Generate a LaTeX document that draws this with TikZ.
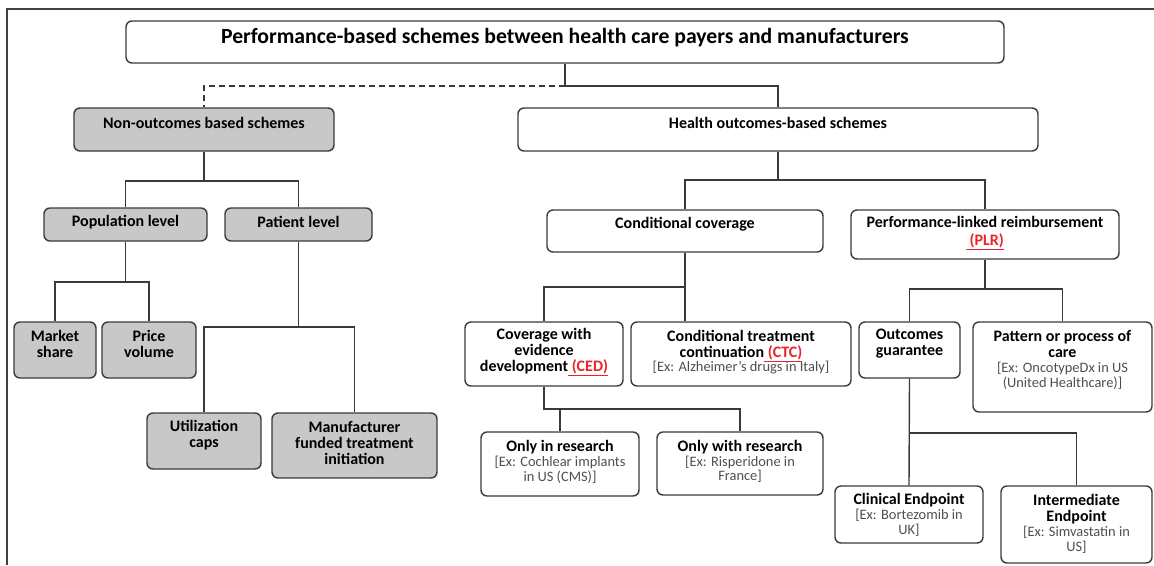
\documentclass[tikz,border=0pt]{standalone}
\usepackage{fontspec}
\setmainfont{Carlito}
\usetikzlibrary{calc}

\definecolor{edge}{HTML}{3A3A3A}
\definecolor{boxgray}{HTML}{C8C8C8}
\definecolor{exgray}{HTML}{4F4F4F}
\definecolor{tagred}{HTML}{E8262A}

% example line in brackets, and red underlined abbreviation
\newcommand\exline[1]{{\color{exgray}\mdseries\fontsize{14.4}{15}\selectfont #1}}
\newcommand\redtag[1]{{\color{tagred}\underline{\ #1}}}

% box from (x1,y1) to (x2,y2), in pixel units
\newcommand\place[6]{%
  \node[#2, minimum width={(#5-#3)*1pt}, minimum height={(#6-#4)*1pt}]
    (#1) at ({(#3+#5)/2},{(#4+#6)/2}) {};}

\tikzset{
  box/.style={draw=edge, line width=1.4pt, rounded corners=6pt, fill=white, inner sep=0pt},
  graybox/.style={box, fill=boxgray},
  lbl/.style={align=center, inner sep=0pt, text=black,
    font=\bfseries\fontsize{16}{16}\selectfont},
  headlbl/.style={lbl, font=\bfseries\fontsize{21.7}{22}\selectfont},
  wire/.style={draw=edge, line width=1.4pt},
  frameline/.style={draw=black!75, line width=1.6pt}
}

\begin{document}
\begin{tikzpicture}[x=1pt, y=-1pt]
\useasboundingbox (0,0) rectangle (1154,565);

% outer frame (top and left edges)
\draw[frameline] (7,565) -- (7,9) -- (1154,9);

% boxes
\place{title}{box}{126}{21}{1004}{63}
\place{nonout}{graybox}{74}{108}{334}{151}
\place{health}{box}{518}{108}{1038}{151}
\place{pop}{graybox}{44}{208}{207}{241}
\place{pat}{graybox}{225}{208}{372}{241}
\place{market}{graybox}{14}{322}{96}{378}
\place{price}{graybox}{102}{322}{196}{378}
\place{util}{graybox}{147}{413}{261}{469}
\place{manuf}{graybox}{272}{413}{437}{478}
\place{cc}{box}{547}{210}{823}{252}
\place{plr}{box}{851}{210}{1119}{259}
\place{ced}{box}{465}{322}{623}{386}
\place{ctc}{box}{631}{322}{851}{386}
\place{og}{box}{859}{322}{960}{378}
\place{ppc}{box}{973}{322}{1152}{412}
\place{oi}{box}{481}{432}{639}{496}
\place{ow}{box}{657}{432}{823}{495}
\place{clin}{box}{835}{486}{983}{543}
\place{inter}{box}{1001}{486}{1152}{563}

% labels
\node[headlbl] (title-t) at (title |- 0,38) {Performance-based schemes between health care payers and manufacturers};
\node[lbl] (nonout-t) at (nonout |- 0,123) {Non-outcomes based schemes};
\node[lbl] (health-t) at (health |- 0,123) {Health outcomes-based schemes};
\node[lbl] (pop-t) at (pop |- 0,222) {Population level};
\node[lbl] (pat-t) at (pat |- 0,222) {Patient level};
\node[lbl] (market-t) at (market |- 0,344) {Market\\share};
\node[lbl] (price-t) at (price |- 0,344) {Price\\volume};
\node[lbl] (util-t) at (util |- 0,435) {Utilization\\caps};
\node[lbl] (manuf-t) at (manuf |- 0,443) {Manufacturer\\funded treatment\\initiation};
\node[lbl] (cc-t) at (cc |- 0,224) {Conditional coverage};
\node[lbl] (plr-t) at (plr |- 0,233) {Performance-linked reimbursement\\[2pt]\redtag{(PLR)}};
\node[lbl] (ced-t) at (ced |- 0,352) {Coverage with\\evidence\\development\redtag{(CED)}};
\node[lbl] (ctc-t) at (ctc |- 0,352) {Conditional treatment\\continuation\redtag{(CTC)}\\[-2pt]\exline{[Ex: Alzheimer’s drugs in Italy]}};
\node[lbl] (og-t) at (og |- 0,344) {Outcomes\\guarantee};
\node[lbl] (ppc-t) at (ppc |- 0,360) {Pattern or process of\\care\\[-1pt]\exline{[Ex: OncotypeDx in US}\\[-1pt]\exline{(United Healthcare)]}};
\node[lbl] (oi-t) at (oi |- 0,462) {Only in research\\[-1pt]\exline{[Ex: Cochlear implants}\\[-1pt]\exline{in US (CMS)]}};
\node[lbl] (ow-t) at (ow |- 0,461) {Only with research\\[-1pt]\exline{[Ex: Risperidone in}\\[-2pt]\exline{France]}};
\node[lbl] (clin-t) at (clin |- 0,515) {Clinical Endpoint\\[-1pt]\exline{[Ex: Bortezomib in}\\[-1pt]\exline{UK]}};
\node[lbl] (inter-t) at (inter |- 0,524) {Intermediate\\Endpoint\\[-1pt]\exline{[Ex: Simvastatin in}\\[-1pt]\exline{US]}};

% junction points of the tree
\coordinate (j0) at (title.south |- 0,86);
\coordinate (j1) at (nonout.south |- 0,181);
\coordinate (j2) at (pop.south |- 0,282);
\coordinate (j3) at (pat.south |- 0,327);
\coordinate (j4) at (health.south |- 0,180);
\coordinate (j5) at (cc.south |- 0,287);
\coordinate (j6) at (ced.south |- 0,409);
\coordinate (j7) at (plr.south |- 0,289);
\coordinate (j8) at (og.south |- 0,433);

% connectors
\draw[wire] (title.south) -- (j0) -| (health.north);
\draw[wire, dashed, dash pattern=on 6pt off 4pt] (j0) -| (nonout.north);

\draw[wire] (nonout.south) -- (j1);
\draw[wire] (pop.north) |- (j1) -| (pat.north);

\draw[wire] (pop.south) -- (j2);
\draw[wire] (market.north) |- (j2) -| (price.north);

\draw[wire] (pat.south) -- (j3);
\draw[wire] (util.north) |- (j3) -| (manuf.north);

\draw[wire] (health.south) -- (j4);
\draw[wire] (cc.north) |- (j4) -| (plr.north);

\draw[wire] (cc.south) -- (cc.south |- ctc.north);
\draw[wire] (j5) -| (ced.north);

\draw[wire] (ced.south) |- (ow.north |- j6) -- (ow.north);
\draw[wire] (oi.north) -- (oi.north |- j6);

\draw[wire] (plr.south) -- (j7);
\draw[wire] (og.north) |- (j7) -| (ppc.north);

\draw[wire] (og.south) -- (clin.north);
\draw[wire] (j8) -| (inter.north);
\end{tikzpicture}
\end{document}
